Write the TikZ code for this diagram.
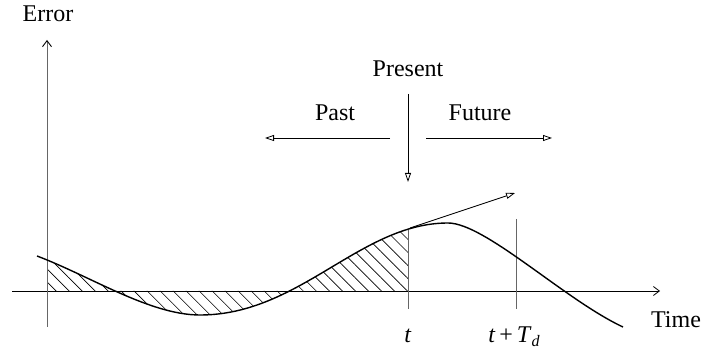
\documentclass[tikz,border=0pt]{standalone}
\usepackage{fontspec}
\setmainfont{Liberation Serif}
\usetikzlibrary{arrows.meta,patterns.meta}
\begin{document}
\begin{tikzpicture}[x=1pt,y=-1pt,
  font=\fontsize{24}{28}\selectfont,
  lbl/.style={inner sep=0pt},
  axisline/.style={line width=0.8pt,-{Straight Barb[length=6pt,width=9pt]}},
  yaxisline/.style={line width=0.9pt,black!60,-{Straight Barb[length=6pt,width=9pt,black]}},
  marker/.style={line width=0.9pt,black!60},
  timearrow/.style={line width=0.8pt,-{Triangle[open,length=9pt,width=6pt]}},
  errcurve/.style={line width=1.4pt},
  hatch/.style={pattern={Lines[angle=-45,distance=9.2pt,line width=0.6pt]}}]
\useasboundingbox (0,0) rectangle (701,352);

% hatched area between the curve and the time axis
\begin{scope}
  \clip (47,200) rectangle (408,330);
  \fill[hatch] (37,256) .. controls (90,276) and (150,315) .. (200,315)
    .. controls (300,315) and (360,223) .. (448,223)
    .. controls (485,223) and (565,300) .. (623,327)
    -- (623,291) -- (37,291) -- cycle;
\end{scope}

% axes
\coordinate (xs) at (12,291);
\coordinate (xe) at (660,291);
\coordinate (ys) at (47,327);
\coordinate (ye) at (47,40);
\draw[axisline] (xs) -- (xe);
\draw[yaxisline] (ys) -- (ye);
\node[lbl] (err) at (48,14) {Error};
\node[lbl] (time) at (676,319.5) {Time};

% time markers
\coordinate (tt) at (408,230);
\coordinate (tb) at (408,309);
\coordinate (tdt) at (516,219);
\coordinate (tdb) at (516,309);
\draw[marker] (tt) -- (tb);
\draw[marker] (tdt) -- (tdb);
\node[lbl,anchor=base] (tl) at (408,343) {\textit{t}};
\node[lbl,anchor=base] (tdl) at (514,343) {\textit{t}\,+\,\textit{T}\raisebox{-0.35ex}{\fontsize{16}{18}\selectfont\textit{d}}};

% error curve
\draw[errcurve] (37,256) .. controls (90,276) and (150,315) .. (200,315)
    .. controls (300,315) and (360,223) .. (448,223)
    .. controls (485,223) and (565,300) .. (623,327);

% tangent (prediction)
\coordinate (tg) at (410,228);
\coordinate (tge) at (515,193);
\draw[timearrow] (tg) -- (tge);

% present / past / future
\node[lbl] (present) at (408,69) {Present};
\node[lbl] (past) at (335,112.5) {Past};
\node[lbl] (future) at (480,112.5) {Future};
\coordinate (ps) at (408,94);
\coordinate (pe) at (408,182);
\coordinate (pas) at (390,138);
\coordinate (pae) at (265,138);
\coordinate (fus) at (426,138);
\coordinate (fue) at (552,138);
\draw[timearrow] (ps) -- (pe);
\draw[timearrow] (pas) -- (pae);
\draw[timearrow] (fus) -- (fue);
\end{tikzpicture}
\end{document}
